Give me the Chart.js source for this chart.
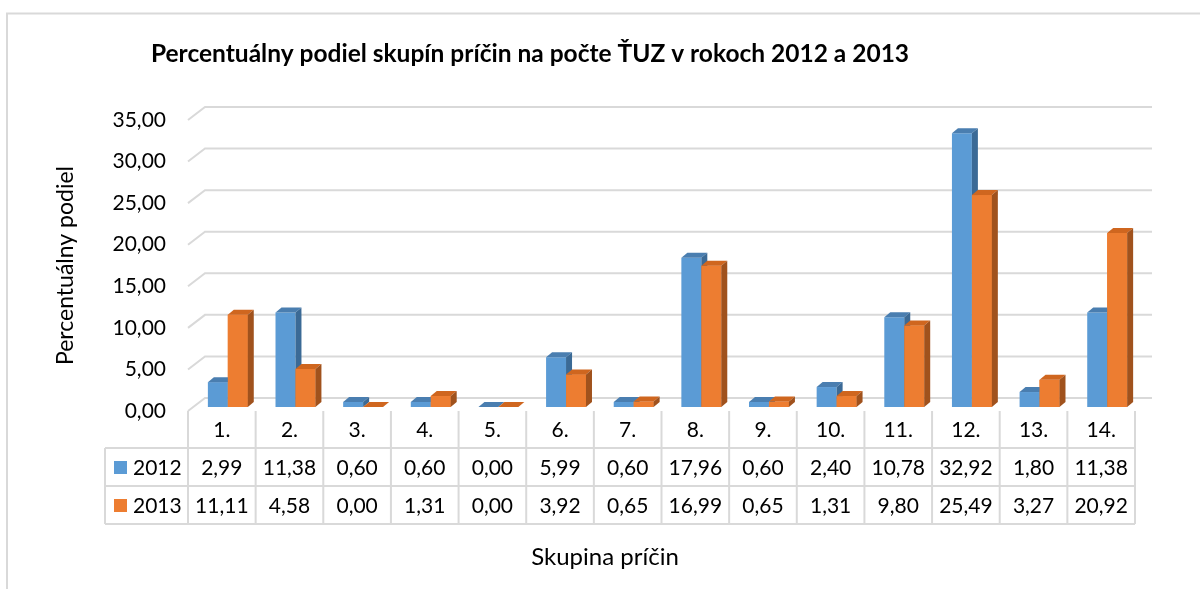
<!DOCTYPE html>
<html>
<head>
<meta charset="utf-8">
<title>Percentuálny podiel skupín príčin</title>
<script src="https://cdn.jsdelivr.net/npm/chart.js@4"></script>
<style>
  body { margin: 0; background: #fff; }
  canvas { display: block; }
</style>
</head>
<body>
<canvas id="myChart" width="1200" height="589"></canvas>
<script>
'use strict';

let categories = ['1.', '2.', '3.', '4.', '5.', '6.', '7.', '8.', '9.', '10.', '11.', '12.', '13.', '14.'];
let seriesNames = ['2012', '2013'];
let values2012 = [2.99, 11.38, 0.60, 0.60, 0.00, 5.99, 0.60, 17.96, 0.60, 2.40, 10.78, 32.92, 1.80, 11.38];
let values2013 = [11.11, 4.58, 0.00, 1.31, 0.00, 3.92, 0.65, 16.99, 0.65, 1.31, 9.80, 25.49, 3.27, 20.92];
let yTicks = [0, 5, 10, 15, 20, 25, 30, 35];

let chartTitle = 'Percentuálny podiel skupín príčin na počte ŤUZ v rokoch 2012 a 2013';
let xTitle = 'Skupina príčin';
let yTitle = 'Percentuálny podiel';

let fontName = 'Lato, "Open Sans", sans-serif';
let frontColors = ['#5B9BD5', '#ED7D31'];
let topColors = ['#4A7EB0', '#CF661F'];
let sideColors = ['#3B6A96', '#A0521D'];
let gridColor = '#d9d9d9';

// depth of the back wall and of the bars (pixels)
let wallDx = 17, wallDy = -13;
let barShiftX = 6, barShiftY = -4;
let barDx = 6, barDy = -5;

function formatNumber(v) {
    return v.toFixed(2).replace('.', ',');
}

function drawBox(ctx, pts, color) {
    ctx.beginPath();
    ctx.moveTo(pts[0][0], pts[0][1]);
    for (let i = 1; i < pts.length; i++) {
        ctx.lineTo(pts[i][0], pts[i][1]);
    }
    ctx.closePath();
    ctx.fillStyle = color;
    ctx.fill();
}

function drawBarExtras(ctx, el, d) {
    let p = el.getProps(['x', 'y', 'base', 'width'], true);
    let l = p.x - p.width / 2, r = p.x + p.width / 2;
    // top face
    drawBox(ctx, [[l, p.y], [r, p.y], [r + barDx, p.y + barDy], [l + barDx, p.y + barDy]], topColors[d]);
    // right side
    drawBox(ctx, [[r, p.y], [r + barDx, p.y + barDy], [r + barDx, p.base + barDy], [r, p.base]], sideColors[d]);
}

let threeDPlugin = {
    id: 'threeD',
    beforeDraw(chart) {
        let ctx = chart.ctx;
        ctx.save();
        ctx.strokeStyle = gridColor;
        ctx.lineWidth = 2;
        ctx.strokeRect(7, 13.5, 1300, 700);
        ctx.restore();
    },
    beforeDatasetsDraw(chart) {
        let ctx = chart.ctx;
        let area = chart.chartArea;
        let y = chart.scales.y;
        ctx.save();
        ctx.strokeStyle = gridColor;
        ctx.lineWidth = 2;
        for (let i = 0; i < yTicks.length; i++) {
            let py = y.getPixelForValue(yTicks[i]);
            ctx.beginPath();
            ctx.moveTo(area.left, py);
            ctx.lineTo(area.left + wallDx, py + wallDy);
            ctx.lineTo(area.right + wallDx, py + wallDy);
            ctx.stroke();
        }
        ctx.restore();
        // bars sit a bit behind the front plane
        ctx.save();
        ctx.translate(barShiftX, barShiftY);
    },
    afterDatasetsDraw(chart) {
        let ctx = chart.ctx;
        let m0 = chart.getDatasetMeta(0).data;
        let m1 = chart.getDatasetMeta(1).data;
        for (let i = 0; i < categories.length; i++) {
            drawBarExtras(ctx, m0[i], 0);
            // orange front again so it covers the blue side
            let p = m1[i].getProps(['x', 'y', 'base', 'width'], true);
            ctx.fillStyle = frontColors[1];
            ctx.fillRect(p.x - p.width / 2, p.y, p.width, p.base - p.y);
            drawBarExtras(ctx, m1[i], 1);
        }
        ctx.restore();
    },
    afterDraw(chart) {
        // data table under the plot
        let ctx = chart.ctx;
        let area = chart.chartArea;
        let x = chart.scales.x;
        let band = (area.right - area.left) / categories.length;
        let top = area.bottom;
        let rows = [448, 486, 524];
        let tableLeft = 105;
        let rowsData = [values2012, values2013];

        ctx.save();
        ctx.strokeStyle = gridColor;
        ctx.lineWidth = 2;
        ctx.beginPath();
        for (let r = 0; r < rows.length; r++) {
            ctx.moveTo(tableLeft, rows[r]);
            ctx.lineTo(area.right, rows[r]);
        }
        for (let i = 0; i <= categories.length; i++) {
            let bx = area.left + i * band;
            ctx.moveTo(bx, top);
            ctx.lineTo(bx, rows[2]);
        }
        ctx.moveTo(tableLeft, rows[0]);
        ctx.lineTo(tableLeft, rows[2]);
        ctx.stroke();

        ctx.fillStyle = '#000';
        ctx.font = '21px ' + fontName;
        ctx.textAlign = 'center';
        ctx.textBaseline = 'middle';
        let centers = [(top + rows[0]) / 2, (rows[0] + rows[1]) / 2, (rows[1] + rows[2]) / 2];
        for (let i = 0; i < categories.length; i++) {
            let cx = x.getPixelForValue(i);
            ctx.fillText(categories[i], cx, centers[0] + 1);
            for (let s = 0; s < rowsData.length; s++) {
                ctx.fillText(formatNumber(rowsData[s][i]), cx, centers[s + 1] + 1);
            }
        }
        // legend keys
        ctx.textAlign = 'left';
        for (let s = 0; s < seriesNames.length; s++) {
            ctx.fillStyle = frontColors[s];
            ctx.fillRect(114, centers[s + 1] - 6, 13, 13);
            ctx.fillStyle = '#000';
            ctx.fillText(seriesNames[s], 133, centers[s + 1] + 1);
        }

        // chart title and x axis title are centred on the whole chart, like Excel does
        ctx.textAlign = 'center';
        ctx.font = 'bold 24.5px ' + fontName;
        ctx.fillText(chartTitle, 530, 54);
        ctx.font = '24px ' + fontName;
        ctx.fillText(xTitle, 605, 557);
        ctx.restore();
    }
};

let ctx = document.getElementById('myChart').getContext('2d');
let myChart = new Chart(ctx, {
    type: 'bar',
    data: {
        labels: categories,
        datasets: [{
                label: seriesNames[0],
                data: values2012,
                backgroundColor: frontColors[0],
                borderWidth: 0,
                clip: false
            },
            {
                label: seriesNames[1],
                data: values2013,
                backgroundColor: frontColors[1],
                borderWidth: 0,
                clip: false
            }
        ]
    },
    options: {
        responsive: false,
        animation: false,
        layout: {
            padding: { top: 120, left: 0, right: 65, bottom: 0 }
        },
        datasets: {
            bar: { barPercentage: 1, categoryPercentage: 0.59 }
        },
        plugins: {
            legend: { display: false },
            tooltip: { enabled: false },
            title: { display: false }
        },
        scales: {
            x: {
                ticks: { display: false },
                grid: { display: false, drawTicks: false },
                border: { display: false },
                afterFit: function (scale) { scale.height = 589 - 411; }
            },
            y: {
                min: 0,
                max: 35,
                ticks: {
                    stepSize: 5,
                    padding: 22,
                    color: '#000',
                    font: { family: fontName, size: 21 },
                    callback: function (v) { return formatNumber(v); }
                },
                grid: { display: false, drawTicks: false },
                border: { display: false },
                title: {
                    display: true,
                    text: yTitle,
                    color: '#000',
                    font: { family: fontName, size: 23 },
                    padding: { top: 52, bottom: 0 }
                },
                afterFit: function (scale) { scale.width = 188; }
            }
        }
    },
    plugins: [threeDPlugin]
});
</script>
</body>
</html>
